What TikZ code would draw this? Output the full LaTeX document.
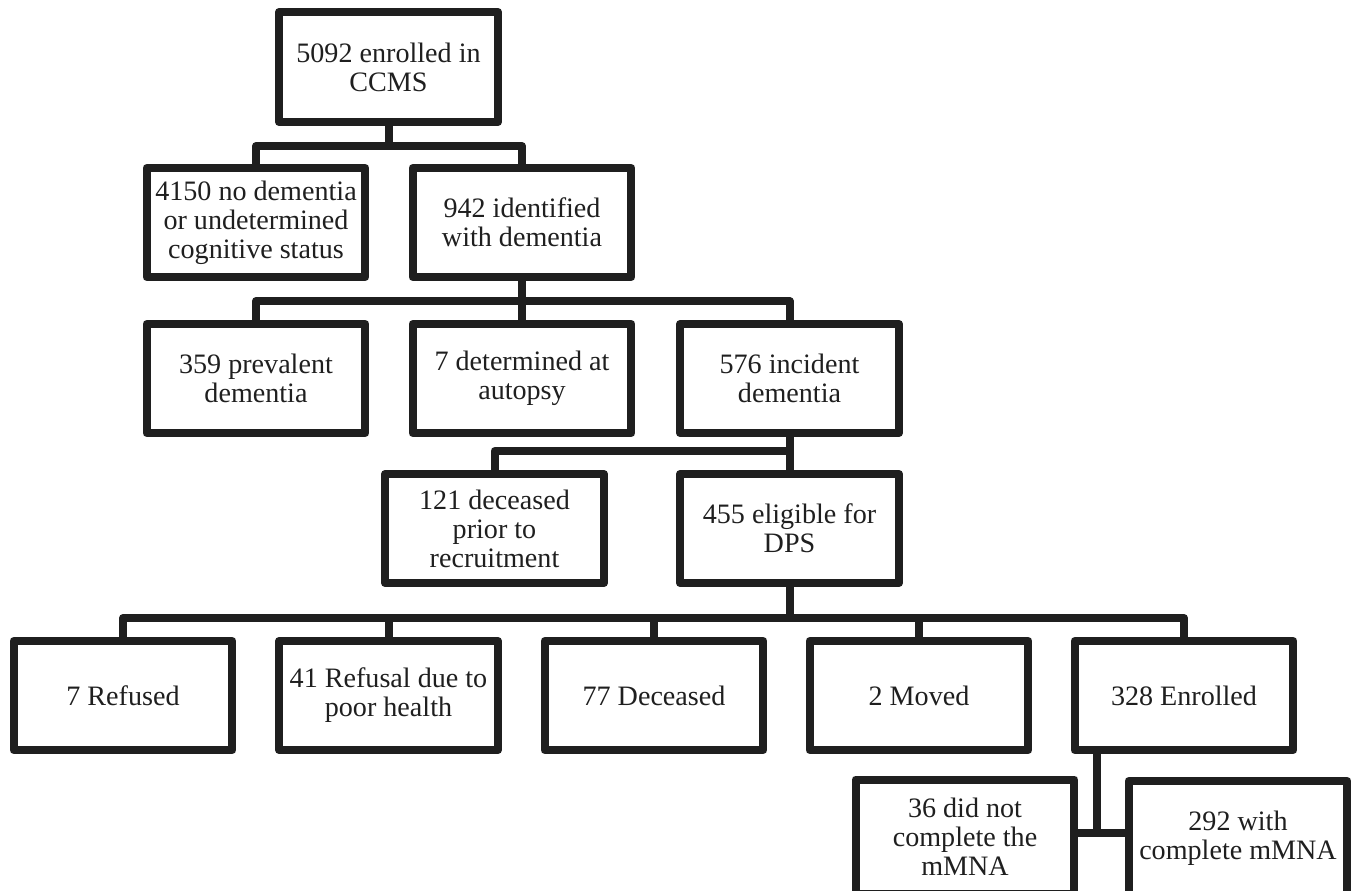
\documentclass[tikz,border=0pt]{standalone}
\usepackage{fontspec}
\setmainfont{Liberation Serif}
\usetikzlibrary{positioning}

\begin{document}
\begin{tikzpicture}[
  x=0.02cm, y=-0.02cm,
  stage/.style ={rectangle,draw=black!88,line width=4.55pt,line join=round,fill=white,
                 minimum width=4.38cm,minimum height=2.18cm,inner sep=0pt,outer sep=0pt,
                 align=center,text=black!88,font=\fontsize{16}{16.5}\selectfont},
  tall/.style  ={stage,minimum height=2.2cm},
  cut/.style   ={stage,minimum height=2.28cm},
  link/.style  ={draw=black!88,line width=4.55pt,line join=round}]
% --- frame of the page ---
\useasboundingbox (0,0) rectangle (1356,890);
\clip (0,0) rectangle (1356,890);
% --- levels of the bars ---
\coordinate (bar1) at (0,146);
\coordinate (bar2) at (0,301);
\coordinate (bar3) at (0,451);
\coordinate (bar4) at (0,618);
\coordinate (split) at (1097,833);
% --- top and first split ---
\node[tall]  (ccms)  at (388.5,67)  {5092 enrolled in\\CCMS};
\node[stage] (nodem) at (256,222.5) {4150 no dementia\\or undetermined\\cognitive status};
\node[stage] (dem)   at (522,222.5) {942 identified\\with dementia};
% --- dementia cases ---
\node[stage] (prev)  at (256,378.5) {359 prevalent\\dementia};
\node[stage] (aut)   at (522,378.5) {7 determined at\\autopsy};
\node[stage] (inc)   at (789.5,378.5) {576 incident\\dementia};
\node[stage] (dec)   at (494.5,528.5) {121 deceased\\prior to\\recruitment};
\node[stage] (elig)  at (789.5,528.5) {455 eligible for\\DPS};
% --- outcome of recruitment ---
\foreach \name/\cx/\lab in
  {refd/123/{7 Refused},
   poor/388.5/{41 Refusal due to\\poor health},
   died/654/{77 Deceased},
   moved/919/{2 Moved},
   enrl/1184/{328 Enrolled}}
{
  \node[stage] (\name) at (\cx,695.5) {\lab};
}
% --- mMNA, cut by the page edge ---
\node[cut] (nocomp) at (965,836.5) {36 did not\\complete the\\mMNA};
\node[cut] (comp)   at (1238,838)  {292 with\\complete mMNA};
% --- connectors ---
\draw[link] (ccms.south) -- (ccms.south |- bar1);
\draw[link] (nodem.north) -- (nodem.north |- bar1) -- (dem.north |- bar1) -- (dem.north);
\draw[link] (dem.south) -- (aut.north);
\draw[link] (prev.north) -- (prev.north |- bar2) -- (inc.north |- bar2) -- (inc.north);
\draw[link] (inc.south) -- (elig.north);
\draw[link] (dec.north) -- (dec.north |- bar3) -- (inc.south |- bar3);
\draw[link] (elig.south) -- (elig.south |- bar4);
\draw[link] (refd.north) -- (refd.north |- bar4) -- (enrl.north |- bar4) -- (enrl.north);
\foreach \name in {poor,died,moved}
  \draw[link] (\name.north) -- (\name.north |- bar4);
\draw[link] (enrl.south -| split) -- (split);
\draw[link] (nocomp.east |- split) -- (comp.west |- split);
\end{tikzpicture}
\end{document}
